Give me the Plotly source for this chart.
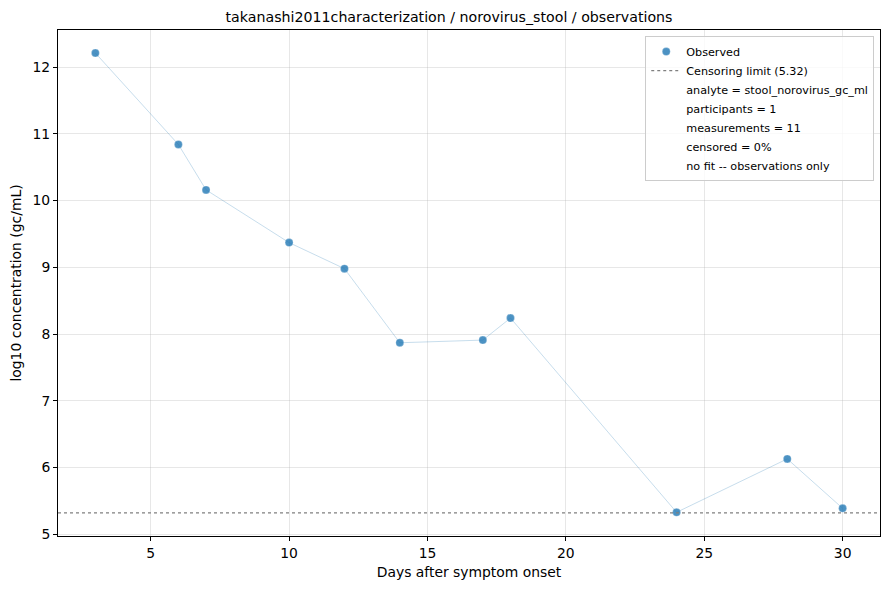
import plotly.graph_objects as go

# observations
days = [3, 6, 7, 10, 12, 14, 17, 18, 24, 28, 30]
log10_conc = [12.21, 10.84, 10.16, 9.37, 8.98, 7.87, 7.91, 8.24, 5.33, 6.13, 5.39]
censor_limit = 5.32

info_lines = [
    "analyte = stool_norovirus_gc_ml",
    "participants = 1",
    "measurements = 11",
    "censored = 0%",
    "no fit -- observations only",
]

font = "DejaVu Sans, sans-serif"

fig = go.Figure()

# thin connecting line
fig.add_trace(go.Scatter(
    x=days, y=log10_conc, mode="lines",
    line=dict(color="rgba(31,119,180,0.25)", width=1),
    showlegend=False, hoverinfo="skip",
))

fig.add_trace(go.Scatter(
    x=days, y=log10_conc, mode="markers", name="Observed",
    marker=dict(color="rgba(31,119,180,0.8)", size=8,
                line=dict(color="rgba(255,255,255,0.5)", width=0.5)),
))

# censoring limit line
x_lo, x_hi = 1.65, 31.35
fig.add_trace(go.Scatter(
    x=[x_lo, x_hi], y=[censor_limit, censor_limit], mode="lines",
    name="Censoring limit (%.2f)" % censor_limit,
    line=dict(color="gray", width=1.3, dash="dot"),
))

# text-only legend entries
for txt in info_lines:
    fig.add_trace(go.Scatter(
        x=[None], y=[None], mode="lines", name=txt,
        line=dict(color="rgba(0,0,0,0)", width=0),
    ))

# page body has an 8px margin, so the figure is a bit smaller than the window
fig.update_layout(
    width=882, height=582,
    paper_bgcolor="white", plot_bgcolor="white",
    margin=dict(l=50, r=10, t=22, b=54),
    font=dict(family=font, size=13.9, color="black"),
    title=dict(text="takanashi2011characterization / norovirus_stool / observations",
               x=0.5, xanchor="center", y=0.9845, yanchor="middle",
               font=dict(size=14.2)),
    legend=dict(x=0.993, y=0.988, xanchor="right", yanchor="top",
                bgcolor="rgba(255,255,255,0.8)", bordercolor="#cccccc", borderwidth=1,
                font=dict(size=11.2), tracegroupgap=0, itemwidth=30),
    showlegend=True,
)

axis_common = dict(
    showline=True, linecolor="black", linewidth=1, mirror=True,
    ticks="outside", ticklen=4, tickcolor="black",
    showgrid=True, gridcolor="rgba(176,176,176,0.3)", gridwidth=1,
    zeroline=False, tickfont=dict(size=13.9), automargin=False,
)

fig.update_xaxes(range=[x_lo, x_hi], tickvals=[5, 10, 15, 20, 25, 30],
                 title=dict(text="Days after symptom onset", standoff=7,
                            font=dict(size=13.9)), **axis_common)
fig.update_yaxes(range=[4.975, 12.555], tickvals=[5, 6, 7, 8, 9, 10, 11, 12],
                 title=dict(text="log10 concentration (gc/mL)", standoff=7,
                            font=dict(size=13.9)), **axis_common)

fig.write_html("out.html")
